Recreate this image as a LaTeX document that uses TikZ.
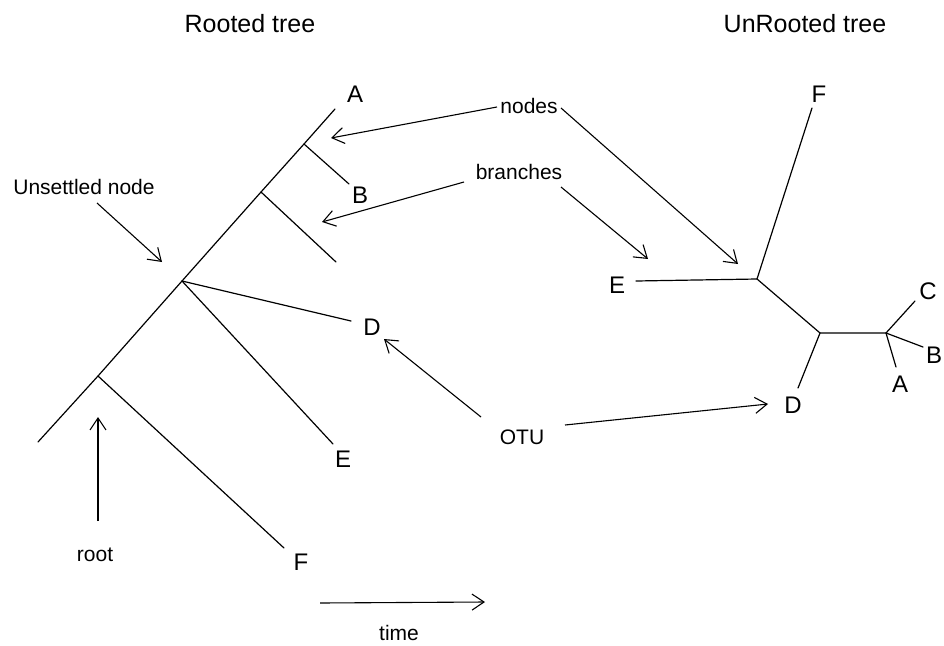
\documentclass[tikz,border=0pt]{standalone}
\usepackage{fontspec}
\setmainfont{Liberation Sans}
\usetikzlibrary{arrows.meta}
\begin{document}
\begin{tikzpicture}[x=1pt,y=-1pt,
  edge/.style={line width=1.2pt,line cap=round},
  pointer/.style={line width=1.1pt,-{Straight Barb[length=12pt,width=16pt,line width=1.1pt]}},
  note/.style={inner sep=0pt,font=\fontsize{21}{25}\selectfont},
  leaf/.style={inner sep=0pt,font=\fontsize{24}{28}\selectfont},
  heading/.style={inner sep=0pt,font=\fontsize{25}{30}\selectfont}]
\useasboundingbox (0,0) rectangle (944,645);

% titles
\node[heading] (t1) at (250,24) {Rooted tree};
\node[heading] (t2) at (805,24) {UnRooted tree};

% rooted tree: trunk and internal nodes
\coordinate (r0) at (38,442);
\coordinate (n1) at (98,376);
\coordinate (n2) at (182,281);
\coordinate (n3) at (261,192);
\coordinate (n4) at (304,144);
\coordinate (ra) at (335,109);
\coordinate (rb) at (349,184);
\coordinate (rc) at (336,262);
\coordinate (rd) at (351,321);
\coordinate (re) at (333,444);
\coordinate (rf) at (284,548);
\draw[edge] (r0) -- (n1) -- (n2) -- (n3) -- (n4) -- (ra);
\draw[edge] (n4) -- (rb);
\draw[edge] (n3) -- (rc);
\draw[edge] (n2) -- (rd);
\draw[edge] (n2) -- (re);
\draw[edge] (n1) -- (rf);
\node[leaf] (la) at (355,94) {A};
\node[leaf] (lb) at (360,195) {B};
\node[leaf] (ld) at (372,327) {D};
\node[leaf] (le) at (343,459) {E};
\node[leaf] (lf) at (301,562) {F};

% unrooted tree
\coordinate (u1) at (757,279);
\coordinate (u2) at (820,333);
\coordinate (u3) at (886,333);
\coordinate (uf) at (812,108);
\coordinate (ue) at (636,281);
\coordinate (ud) at (798,388);
\coordinate (uc) at (915,301);
\coordinate (ub) at (923,347);
\coordinate (ua) at (896,367);
\draw[edge] (uf) -- (u1) -- (ue);
\draw[edge] (u1) -- (u2) -- (u3);
\draw[edge] (u2) -- (ud);
\draw[edge] (u3) -- (uc);
\draw[edge] (u3) -- (ub);
\draw[edge] (u3) -- (ua);
\node[leaf] (mf) at (819,94) {F};
\node[leaf] (me) at (617,285) {E};
\node[leaf] (md) at (793,405) {D};
\node[leaf] (mc) at (928,291) {C};
\node[leaf] (mb) at (934,355) {B};
\node[leaf] (ma) at (900,384) {A};

% annotations
\node[note] (unset) at (84,187) {Unsettled node};
\coordinate (unsetS) at (97,203);
\coordinate (unsetE) at (162,262);
\draw[pointer] (unsetS) -- (unsetE);

\node[note] (root) at (95,555) {root};
\coordinate (rootS) at (98,521);
\coordinate (rootE) at (98,417);
\draw[pointer] (rootS) -- (rootE);

\node[note] (time) at (399,633) {time};
\coordinate (timeS) at (320,603);
\coordinate (timeE) at (485,602);
\draw[pointer] (timeS) -- (timeE);

\node[note] (nodes) at (529,106) {nodes};
\coordinate (nodesL) at (497,107);
\coordinate (nodesR) at (561,108);
\coordinate (nodesA) at (331,138);
\coordinate (nodesB) at (738,264);
\draw[pointer] (nodesL) -- (nodesA);
\draw[pointer] (nodesR) -- (nodesB);

\node[note] (branches) at (519,172) {branches};
\coordinate (brL) at (464,182);
\coordinate (brR) at (561,187);
\coordinate (brA) at (322,222);
\coordinate (brB) at (648,259);
\draw[pointer] (brL) -- (brA);
\draw[pointer] (brR) -- (brB);

\node[note] (otu) at (522,437) {OTU};
\coordinate (otuL) at (481,417);
\coordinate (otuR) at (565,425);
\coordinate (otuA) at (384,339);
\coordinate (otuB) at (768,404);
\draw[pointer] (otuL) -- (otuA);
\draw[pointer] (otuR) -- (otuB);
\end{tikzpicture}
\end{document}
